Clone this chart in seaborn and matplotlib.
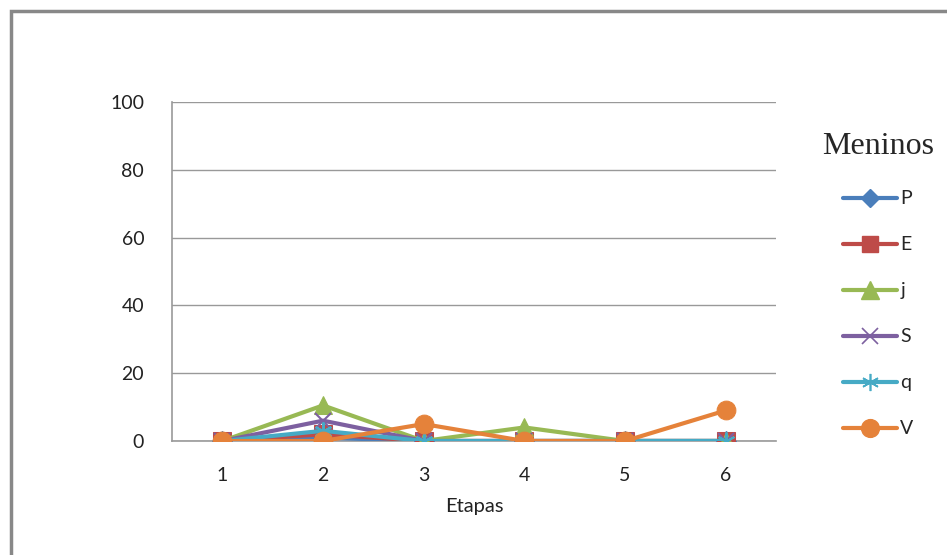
import matplotlib
matplotlib.use("Agg")
import matplotlib.pyplot as plt
import seaborn as sns
import pandas as pd
from matplotlib.lines import Line2D
from matplotlib.patches import Rectangle

etapas = ["1", "2", "3", "4", "5", "6"]
P = [0, 1, 0, 0, 0, 0]
E = [0, 2, 0, 0, 0, 0]
j = [0, 10.5, 0, 4, 0, 0]
S = [0, 6, 0, 0, 0, 0]
q = [0, 3, 0, 0, 0, 0]
V = [0, 0, 5, 0, 0, 9]

series_names = ["P", "E", "j", "S", "q", "V"]
series_values = [P, E, j, S, q, V]
colors = ["#4A7EBB", "#BE4B48", "#98B954", "#7D60A0", "#46AAC5", "#E5823A"]
markers = ["D", "s", "^", "x", (6, 2, 0), "o"]
msizes = [10, 12.5, 13, 12, 13, 13.5]

sns.set_style("white")
plt.rcParams["font.family"] = ["Lato", "DejaVu Sans"]

fig = plt.figure(figsize=(9.47, 5.55), dpi=100)
ax = fig.add_axes([172/947, 1 - 441/555, (776-172)/947, (441-102)/555])

x = list(range(len(etapas)))
for name, vals, c, m, ms in zip(series_names, series_values, colors, markers, msizes):
    df = pd.DataFrame({"x": x, "y": vals})
    kw = dict(marker=m, markersize=ms, markerfacecolor=c, markeredgecolor=c)
    if m in ("x", (6, 2, 0)):
        kw.update(markeredgewidth=1.5)
    sns.lineplot(data=df, x="x", y="y", ax=ax, color=c, linewidth=3, zorder=3, **kw)

ax.set_xlim(-0.5, 5.5)
ax.set_ylim(0, 100)
ax.set_yticks([0, 20, 40, 60, 80, 100])
ax.set_xticks(x)
ax.set_xticklabels(etapas)
ax.tick_params(axis="both", labelsize=14, length=0, colors="#222222")
ax.tick_params(axis="y", pad=20)
ax.tick_params(axis="x", pad=19)
ax.grid(axis="y", color="#999999", linewidth=1)
ax.set_axisbelow(True)
for s in ["top", "right"]:
    ax.spines[s].set_visible(False)
for s in ["left", "bottom"]:
    ax.spines[s].set_color("#999999")
    ax.spines[s].set_linewidth(1.2)
ax.set_xlabel("Etapas", fontsize=14.5, labelpad=10, color="#222222")
ax.set_ylabel("")

handles = []
for name, c, m, ms in zip(series_names, colors, markers, msizes):
    kw = dict(marker=m, markersize=ms * 0.95, markerfacecolor=c, markeredgecolor=c)
    if m in ("x", (6, 2, 0)):
        kw.update(markeredgewidth=1.2)
    handles.append(Line2D([0], [0], color=c, linewidth=3, **kw))

leg = fig.legend(handles, series_names, loc="upper left",
                 bbox_to_anchor=(805/947, 1 - 115/555), frameon=False,
                 fontsize=14, handlelength=2.78, handletextpad=0.15,
                 labelspacing=1.49, title="Meninos")
leg.get_title().set_fontfamily("Liberation Serif")
leg.get_title().set_fontsize(23)

fig.patches.append(Rectangle((11/947, -0.1), 1.2, 1 - 11/555 + 0.1,
                             transform=fig.transFigure, fill=False,
                             edgecolor="#888888", linewidth=2.5))

fig.savefig("out.png", dpi=100)
